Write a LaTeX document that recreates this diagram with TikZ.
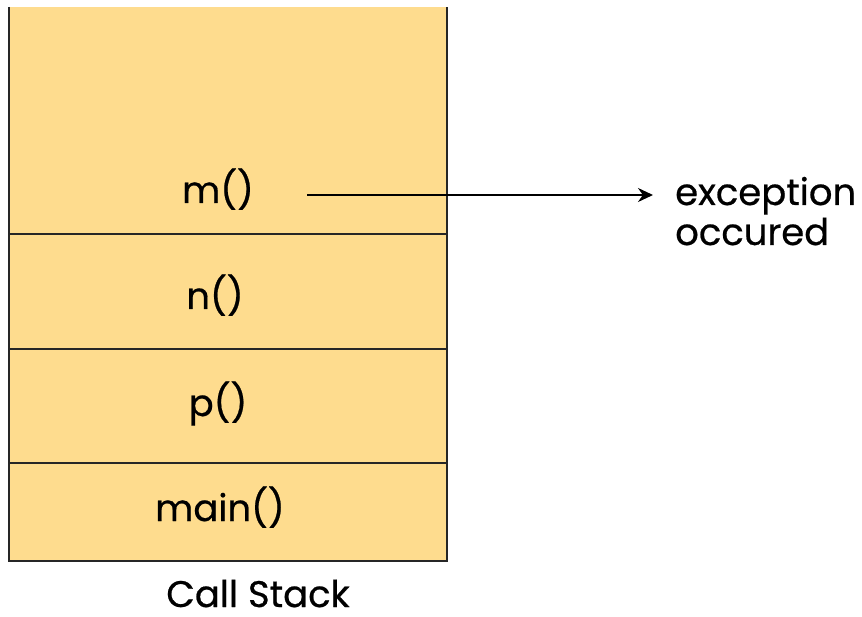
\documentclass[tikz,border=0pt]{standalone}
\usepackage{fontspec}
\setmainfont{Poppins}[FakeBold=0.6]
\usetikzlibrary{arrows.meta}
\definecolor{stackfill}{HTML}{FEDC8E}
\tikzset{
  frame line/.style={line width=1.6pt, black!85},
  frame label/.style={font=\fontsize{37}{40}\selectfont, inner sep=0pt, anchor=base},
  side label/.style={font=\fontsize{37}{40}\selectfont, align=left, inner sep=0pt, anchor=base west},
  throw arrow/.style={line width=1.8pt, -{Stealth[length=15pt, width=14pt]}},
  >=Stealth,
}
\begin{document}
\begin{tikzpicture}[x=1pt, y=-1pt]
  \useasboundingbox (0,0) rectangle (862,617);
  % the stack body
  \fill[stackfill] (9,7) rectangle (447,561);
  \draw[frame line] (9,7) -- (9,561) -- (447,561) -- (447,7);
  \draw[frame line] (9,234) -- (447,234);
  \draw[frame line] (9,349) -- (447,349);
  \draw[frame line] (9,463) -- (447,463);
  % frames
  \node[frame label] (m) at (218,203) {m()};
  \node[frame label] (n) at (215,309) {n()};
  \node[frame label] (p) at (218,416) {p()};
  \node[frame label] (main) at (220,521) {main()};
  \node[frame label, text depth=0pt] (caption) at (258,607) {Call Stack};
  % exception
  \coordinate (start) at (307,195);
  \coordinate (tip) at (653,195);
  \node[side label] (exc) at (675,245) {exception\\occured};
  \draw[throw arrow] (start) -- (tip);
\end{tikzpicture}
\end{document}
